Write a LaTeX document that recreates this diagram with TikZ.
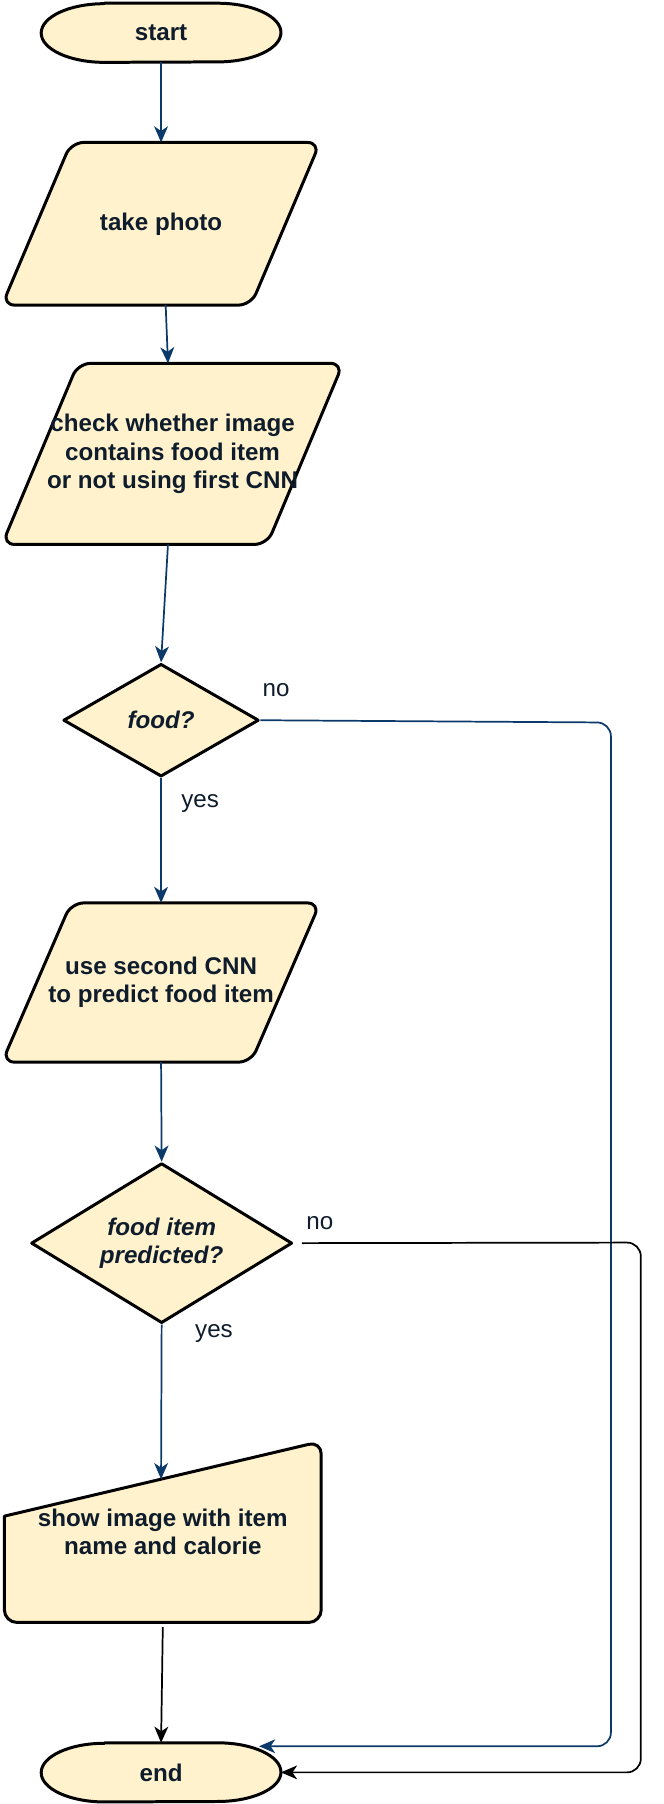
\documentclass[tikz,border=0pt]{standalone}
\usepackage{fontspec}
\setmainfont{Liberation Sans}
\usetikzlibrary{shapes.geometric,arrows.meta,backgrounds,calc}
\definecolor{boxfill}{HTML}{FFF2CC}
\definecolor{linkblue}{HTML}{0B3A6A}
\definecolor{inkblue}{HTML}{0E1C2C}
\tikzset{
    shape line/.style={draw=black,line width=2.6pt,fill=boxfill,line join=round},
    box/.style={rectangle,inner sep=0pt,align=center,text=inkblue,font=\fontsize{21}{24.5}\selectfont\bfseries},
    decision/.style={diamond,shape line,inner sep=0pt,align=center,text=inkblue,font=\fontsize{21}{24.5}\selectfont\bfseries\itshape},
    tag/.style={inner sep=0pt,text=inkblue,font=\fontsize{21}{24.5}\selectfont},
    link/.style={draw=linkblue,line width=1.5pt,-{Stealth[length=14pt,width=12pt,inset=4pt]}},
    plain link/.style={draw=black,line width=1.5pt,-{Stealth[length=14pt,width=12pt,inset=4pt]}}
}
\begin{document}
\begin{tikzpicture}[x=1pt,y=-1pt]
    \useasboundingbox (0,0) rectangle (577,1568);
    \node[box,minimum width=208pt,minimum height=51pt] (st) at (140,28.5) {start};
    \node[box,minimum width=276pt,minimum height=141pt] (tp) at (140,194.5) {take photo};
    \node[box,minimum width=296pt,minimum height=157pt] (ck) at (150,394.5) {check whether image\\contains food item\\or not using first CNN};
    \node[decision,aspect=1.73,minimum width=170pt,minimum height=98pt] (fd) at (140,626) {food?};
    \node[box,minimum width=276pt,minimum height=138pt] (usc) at (140,854) {use second CNN\\to predict food item};
    \node[decision,aspect=1.63,minimum width=227pt,minimum height=139pt] (fip) at (140.5,1080.5) {food item\\predicted?};
    \node[box,minimum width=275pt,minimum height=157pt] (mi) at (141.5,1331.5) {show image with item\\name and calorie};
    \node[box,minimum width=208pt,minimum height=51pt] (en) at (140,1540.5) {end};
    \node[tag] (fdno) at (240,600) {no};
    \node[tag] (fdyes) at (174,698) {yes};
    \node[tag] (fipno) at (278,1063) {no};
    \node[tag] (fipyes) at (186,1159) {yes};
    \coordinate (mileft) at ([yshift=-65pt]mi.north west);
    \coordinate (mitop) at ($(mileft)!0.4945!(mi.north east)$);
    \coordinate (enin) at ([xshift=-19pt,yshift=-3pt]en.north east);
    \coordinate (noturn) at (531,628);
    \coordinate (fipturn) at (557,1080);
    \begin{scope}[on background layer]
        \foreach \t in {st,en}
            \draw[shape line] ([xshift=55pt]\t.north west) -- ([xshift=-55pt]\t.north east) arc[start angle=90,end angle=-90,x radius=55pt,y radius=25.5pt] -- ([xshift=55pt]\t.south west) arc[start angle=-90,end angle=-270,x radius=55pt,y radius=25.5pt] -- cycle;
        \draw[shape line,rounded corners=11pt] ([xshift=60pt]tp.north west) -- (tp.north east) -- ([xshift=-60pt]tp.south east) -- (tp.south west) -- cycle;
        \draw[shape line,rounded corners=11pt] ([xshift=66pt]ck.north west) -- (ck.north east) -- ([xshift=-66pt]ck.south east) -- (ck.south west) -- cycle;
        \draw[shape line,rounded corners=11pt] ([xshift=60pt]usc.north west) -- (usc.north east) -- ([xshift=-60pt]usc.south east) -- (usc.south west) -- cycle;
        \draw[shape line] (mileft) [rounded corners=11pt] -- (mi.north east) -- (mi.south east) -- (mi.south west) [sharp corners] -- cycle;
    \end{scope}
    \draw[link] (st.south) -- (tp.north);
    \draw[link] ([xshift=4pt]tp.south) -- ([xshift=-4pt]ck.north);
    \draw[link] ([xshift=-4pt]ck.south) -- (fd.north);
    \draw[link] (fd.south) -- (usc.north);
    \draw[link] (usc.south) -- (fip.north);
    \draw[link] (fip.south) -- (mitop);
    \draw[link,rounded corners=12pt] (fd.east) -- (noturn) -- (noturn |- enin) -- (enin);
    \draw[plain link,rounded corners=12pt] ([xshift=7pt]fip.east) -- (fipturn) -- (fipturn |- en.east) -- (en.east);
    \draw[plain link] ([yshift=-4pt]mi.south) -- (en.north);
\end{tikzpicture}
\end{document}
